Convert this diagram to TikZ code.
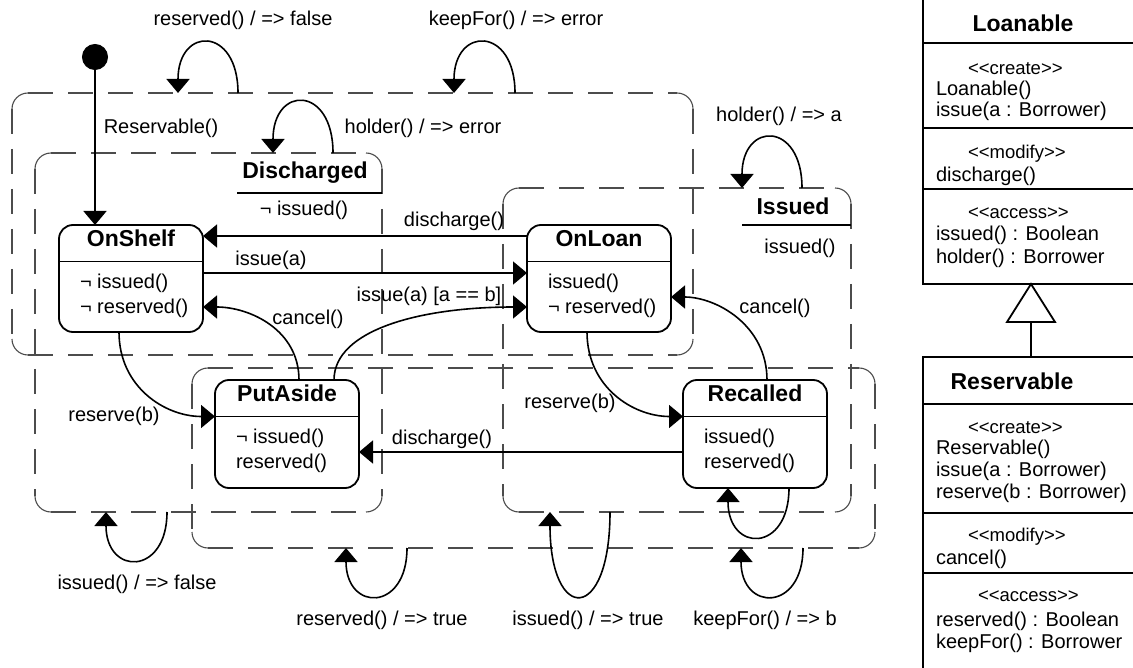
\documentclass[tikz,border=0pt]{standalone}
\usepackage{fontspec}
\setmainfont{Liberation Sans}
\usetikzlibrary{arrows.meta}
\newcommand\regionframe[1]{%
 \draw[regline,regdash] ([xshift=16pt]#1.north west) -- ([xshift=-16pt]#1.north east);
 \draw[regline,regdash] ([xshift=16pt]#1.south west) -- ([xshift=-16pt]#1.south east);
 \draw[regline,regdash] ([yshift=-16pt]#1.north west) -- ([yshift=16pt]#1.south west);
 \draw[regline,regdash] ([yshift=-16pt]#1.north east) -- ([yshift=16pt]#1.south east);
 \draw[regline] ([xshift=-16pt]#1.north east) arc[start angle=90,end angle=0,radius=16pt];
 \draw[regline] ([yshift=-16pt]#1.north west) arc[start angle=180,end angle=90,radius=16pt];
 \draw[regline] ([xshift=16pt]#1.south west) arc[start angle=270,end angle=180,radius=16pt];
 \draw[regline] ([yshift=16pt]#1.south east) arc[start angle=0,end angle=-90,radius=16pt];
}
\begin{document}
\begin{tikzpicture}[x=1pt,y=-1pt,
  every node/.style={font=\fontsize{20}{24}\selectfont, inner sep=0pt, outer sep=0pt},
  txt/.style={text height=0.74em, text depth=0.21em, yshift=-4pt},
  title/.style={font=\fontsize{23}{27}\selectfont\bfseries, text height=0.74em, text depth=0.21em, yshift=-3pt},
  ctitle/.style={font=\fontsize{23}{27}\selectfont\bfseries, text height=0.74em, text depth=0.21em, yshift=-4pt},
  stereo/.style={font=\fontsize{18.5}{22}\selectfont, text height=0.74em, text depth=0.21em, anchor=west, yshift=-4pt},
  ctext/.style={txt, anchor=west},
  state/.style={draw, fill=white, line width=1.8pt, rounded corners=14pt, minimum width=144pt},
  region/.style={draw=none, minimum width=#1},
  regline/.style={draw=black!70, line width=1.1pt},
  regdash/.style={dash pattern=on 25pt off 15pt},
  trans/.style={line width=1.6pt, -{Triangle[length=14pt,width=23pt]}},
  sep/.style={line width=1.6pt},
  cbox/.style={line width=1.8pt}
]
\useasboundingbox (0,0) rectangle (1133,668);
\clip (0,0) rectangle (1133,668);

% ---------- regions ----------
\node[region=681pt, minimum height=262pt] (regA) at (352.5,224) {};
\node[region=347pt, minimum height=359pt] (regB) at (208.5,332.5) {};
\node[region=348pt, minimum height=324pt] (regC) at (677,350) {};
\node[region=683pt, minimum height=180pt] (regD) at (533.5,458) {};
\regionframe{regA}
\regionframe{regB}
\regionframe{regC}
\regionframe{regD}

% region labels
\coordinate (du1) at (237,193);
\coordinate (iu1) at (742,225);
\node[title] (dischT) at (305,173) {Discharged};
\draw[sep] (du1) -- (du1 -| regB.east);
\node[txt] (dischP) at (304,209) {¬ issued()};
\node[title] (issT) at (793,209) {Issued};
\draw[sep] (iu1) -- (iu1 -| regC.east);
\node[txt] (issP) at (800,247) {issued()};

% ---------- states ----------
\node[state, minimum height=107pt] (onshelf) at (131,278.5) {};
\node[state, minimum height=107pt] (onloan) at (599,278.5) {};
\node[state, minimum height=108pt] (putaside) at (287,434) {};
\node[state, minimum height=108pt] (recalled) at (755,434) {};

\foreach \s/\t/\a/\b in {onshelf/OnShelf/¬ issued()/¬ reserved(), onloan/OnLoan/issued()/¬ reserved(), putaside/PutAside/¬ issued()/reserved(), recalled/Recalled/issued()/reserved()}{
  \draw[sep] ([yshift=-36.5pt]\s.north west) -- ([yshift=-36.5pt]\s.north east);
  \node[title] (\s-t) at ([yshift=-16pt]\s.north) {\t};
  \node[ctext] (\s-a) at ([xshift=21pt,yshift=-57pt]\s.north west) {\a};
  \node[ctext] (\s-b) at ([xshift=21pt,yshift=-82pt]\s.north west) {\b};
}

% ---------- initial ----------
\node[circle, fill=black, draw, line width=1pt, minimum size=25pt] (init) at (95,57) {};
\draw[trans] (init) -- ([xshift=36pt]onshelf.north west);
\node[txt] (lreservable) at (161,127) {Reservable()};

% ---------- transitions ----------
\draw[trans] ([yshift=-11pt]onloan.north west) -- ([yshift=-11pt]onshelf.north east);
\node[txt] (ldis1) at (454,220) {discharge()};
\draw[trans] ([yshift=-48pt]onshelf.north east) -- ([yshift=-48pt]onloan.north west);
\node[txt] (liss) at (271,259) {issue(a)};
\draw[trans] ([xshift=119pt]putaside.north west) .. controls +(0,-50) and +(-107,0) .. ([yshift=-82pt]onloan.north west);
\node[txt] (lissab) at (429,295) {issue(a) [a == b]};
\draw[trans] ([xshift=84pt]putaside.north west) .. controls +(0,-50) and +(47,0) .. ([yshift=-82pt]onshelf.north east);
\node[txt] (lcan1) at (308,318) {cancel()};
\draw[trans] ([xshift=60pt]onshelf.south west) .. controls +(0,55) and +(-50,0) .. ([yshift=-36.5pt]putaside.north west);
\node[txt] (lres1) at (114,415) {reserve(b)};
\draw[trans] ([xshift=60pt]onloan.south west) .. controls +(0,55) and +(-50,0) .. ([yshift=-36.5pt]recalled.north west);
\node[txt] (lres2) at (570,402) {reserve(b)};
\draw[trans] ([xshift=84pt]recalled.north west) .. controls +(0,-55) and +(45,0) .. ([yshift=-72pt]onloan.north east);
\node[txt] (lcan2) at (775,307) {cancel()};
\draw[trans] ([yshift=-72pt]recalled.north west) -- ([yshift=-72pt]putaside.north east);
\node[txt] (ldis2) at (442,438) {discharge()};

% ---------- self loops ----------
\coordinate (l1a) at (178,93);  \coordinate (l1s) at (238,93);
\coordinate (l2a) at (454,93);  \coordinate (l2s) at (515,93);
\coordinate (l3a) at (273,153); \coordinate (l3s) at (333,153);
\coordinate (l4a) at (742,188); \coordinate (l4s) at (802,188);
\coordinate (l5a) at (106,512); \coordinate (l5s) at (167,512);
\coordinate (l6a) at (346,548); \coordinate (l6s) at (407,548);
\coordinate (l7a) at (550,512); \coordinate (l7s) at (610,512);
\coordinate (l8a) at (741,548); \coordinate (l8s) at (803,548);
\draw[trans] (l1s) .. controls +(0,-67) and +(0,-67) .. (l1a);
\draw[trans] (l2s) .. controls +(0,-67) and +(0,-67) .. (l2a);
\draw[trans] (l3s) .. controls +(0,-68) and +(0,-68) .. (l3a);
\draw[trans] (l4s) .. controls +(0,-67) and +(0,-67) .. (l4a);
\draw[trans] (l5s) .. controls +(0,64) and +(0,64) .. (l5a);
\draw[trans] (l6s) .. controls +(0,64) and +(0,64) .. (l6a);
\draw[trans] (l7s) .. controls +(0,112) and +(0,112) .. (l7a);
\draw[trans] (l8s) .. controls +(0,64) and +(0,64) .. (l8a);
\draw[trans] ([xshift=106pt]recalled.south west) .. controls +(0,65) and +(0,65) .. ([xshift=45pt]recalled.south west);

\node[txt] (ll1) at (243,19) {reserved() / => false};
\node[txt] (ll2) at (516,19) {keepFor() / => error};
\node[txt] (ll3) at (423,127) {holder() / => error};
\node[txt] (ll4) at (779,115) {holder() / => a};
\node[txt] (ll5) at (137,583) {issued() / => false};
\node[txt] (ll6) at (382,619) {reserved() / => true};
\node[txt] (ll7) at (588,619) {issued() / => true};
\node[txt] (ll8) at (765,619) {keepFor() / => b};

% ---------- class diagram ----------
\node[draw, cbox, minimum width=222pt, minimum height=290pt, anchor=north west] (loanable) at (923,-6) {};
\coordinate (ls1) at (923,43);
\coordinate (ls2) at (923,128);
\coordinate (ls3) at (923,189);
\foreach \c in {ls1,ls2,ls3}{\draw[cbox] (\c) -- (\c -| loanable.east);}
\node[ctitle] (loanT) at (1023,25) {Loanable};
\node[stereo] (lc1) at (968,68) {<\kern0pt<create>\kern0pt>};
\node[ctext] (lc2) at (936,89) {Loanable()};
\node[ctext] (lc3) at (936,110) {issue(a : Borrower)};
\node[stereo] (lc4) at (968,152) {<\kern0pt<modify>\kern0pt>};
\node[ctext] (lc5) at (936,175) {discharge()};
\node[stereo] (lc6) at (968,212) {<\kern0pt<access>\kern0pt>};
\node[ctext] (lc7) at (936,234) {issued() : Boolean};
\node[ctext] (lc8) at (936,257) {holder() : Borrower};

\node[draw, cbox, minimum width=222pt, minimum height=320pt, anchor=north west] (reservable) at (923,357) {};
\coordinate (rs1) at (923,404);
\coordinate (rs2) at (923,513);
\coordinate (rs3) at (923,573);
\foreach \c in {rs1,rs2,rs3}{\draw[cbox] (\c) -- (\c -| reservable.east);}
\node[ctitle] (resT) at (1012,383) {Reservable};
\node[stereo] (rc1) at (968,427) {<\kern0pt<create>\kern0pt>};
\node[ctext] (rc2) at (936,448) {Reservable()};
\node[ctext] (rc3) at (936,470) {issue(a : Borrower)};
\node[ctext] (rc4) at (936,492) {reserve(b : Borrower)};
\node[stereo] (rc5) at (968,535) {<\kern0pt<modify>\kern0pt>};
\node[ctext] (rc6) at (936,558) {cancel()};
\node[stereo] (rc7) at (978,595) {<\kern0pt<access>\kern0pt>};
\node[ctext] (rc8) at (936,620) {reserved() : Boolean};
\node[ctext] (rc9) at (936,642) {keepFor() : Borrower};

% generalization
\coordinate (gtip) at (1031,284);
\coordinate (gbase) at (1031,322);
\draw[cbox, fill=white] (gtip) -- (1055,322) -- (1007,322) -- cycle;
\draw[cbox] (gbase) -- (gbase |- reservable.north);
\end{tikzpicture}
\end{document}
